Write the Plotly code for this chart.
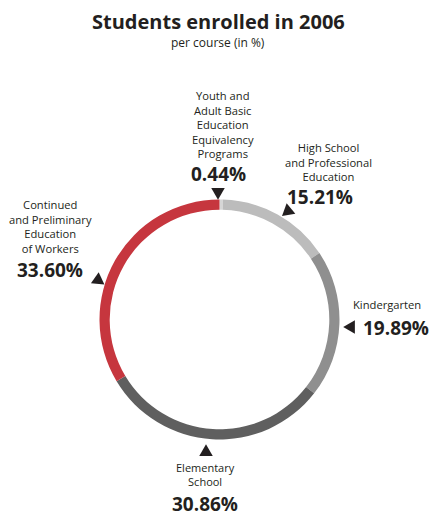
import math
import plotly.graph_objects as go

categories = [
    "Youth and<br>Adult Basic<br>Education<br>Equivalency<br>Programs",
    "High School<br>and Professional<br>Education",
    "Kindergarten",
    "Elementary<br>School",
    "Continued<br>and Preliminary<br>Education<br>of Workers",
]
values = [0.44, 15.21, 19.89, 30.86, 33.60]
colors = ["#d6d6d6", "#bcbcbc", "#8f8f8f", "#5f5f5f", "#c6363e"]

W, H = 436, 519
cx, cy, R = 219.5, 319.5, 120

fig = go.Figure(go.Pie(
    values=values,
    labels=[c.replace("<br>", " ") for c in categories],
    sort=False,
    direction="clockwise",
    rotation=0,
    hole=0.915,
    marker=dict(colors=colors, line=dict(width=0)),
    textinfo="none",
    hoverinfo="label+value",
    showlegend=False,
    domain=dict(x=[(cx - R) / W, (cx + R) / W], y=[(H - cy - R) / H, (H - cy + R) / H]),
))

TXT = "#231f20"
FONT = "Open Sans"

# layout positions in pixels (label top, value anchor, arrow center and pointing direction)
placements = [
    dict(tx=223, ty_top=86, lsize=11.2, vx=218, vy=174, vanchor="middle", ax=218, ay=192, dir=90),
    dict(tx=328, ty_top=138, lsize=11.2, vx=320, vy=197, vanchor="middle", ax=288, ay=211, dir=20),
    dict(tx=387, ty_top=295, lsize=11.2, vx=396, vy=328, vanchor="middle", ax=351, ay=327, dir=180),
    dict(tx=205, ty_top=458, lsize=11, vx=205, vy=519, vanchor="bottom", ax=206, ay=452, dir=270),
    dict(tx=50, ty_top=195, lsize=11.2, vx=50, vy=270, vanchor="middle", ax=98, ay=280, dir=35),
]


def tri_path(x0, y0, ang, side=13.5):
    h = side * math.sqrt(3) / 2
    dx, dy = math.cos(math.radians(ang)), math.sin(math.radians(ang))
    px, py = -dy, dx
    tip = (x0 + dx * h * 2 / 3, y0 + dy * h * 2 / 3)
    b1 = (x0 - dx * h / 3 + px * side / 2, y0 - dy * h / 3 + py * side / 2)
    b2 = (x0 - dx * h / 3 - px * side / 2, y0 - dy * h / 3 - py * side / 2)
    pts = [tip, b1, b2]
    return "M " + " L ".join("%.5f,%.5f" % (x / W, 1 - y / H) for x, y in pts) + " Z"


ann, shapes = [], []
for cat, v, p in zip(categories, values, placements):
    ann.append(dict(x=p["tx"] / W, y=1 - p["ty_top"] / H, xref="paper", yref="paper",
                    text=cat, showarrow=False, xanchor="center", yanchor="top", align="center",
                    font=dict(family=FONT, size=p["lsize"], color=TXT)))
    ann.append(dict(x=p["vx"] / W, y=1 - p["vy"] / H, xref="paper", yref="paper",
                    text="<b>%.2f%%</b>" % v, showarrow=False, xanchor="center", yanchor=p["vanchor"],
                    font=dict(family=FONT, size=19, color=TXT)))
    shapes.append(dict(type="path", xref="paper", yref="paper",
                       path=tri_path(p["ax"], p["ay"], p["dir"]),
                       fillcolor=TXT, line=dict(width=0)))

ann.append(dict(x=218 / W, y=1 - 22 / H, xref="paper", yref="paper",
                text="<b>Students enrolled in 2006</b>", showarrow=False,
                xanchor="center", yanchor="middle", font=dict(family=FONT, size=20, color=TXT)))
ann.append(dict(x=218 / W, y=1 - 43 / H, xref="paper", yref="paper",
                text="per course (in %)", showarrow=False,
                xanchor="center", yanchor="middle", font=dict(family=FONT, size=12, color=TXT)))

fig.update_layout(
    width=W, height=H,
    margin=dict(l=0, r=0, t=0, b=0),
    paper_bgcolor="white", plot_bgcolor="white",
    annotations=ann,
    shapes=shapes,
)
fig.write_html("out.html", config={"displayModeBar": False},
               post_script="document.body.style.margin='0px';document.body.style.overflow='hidden';")
